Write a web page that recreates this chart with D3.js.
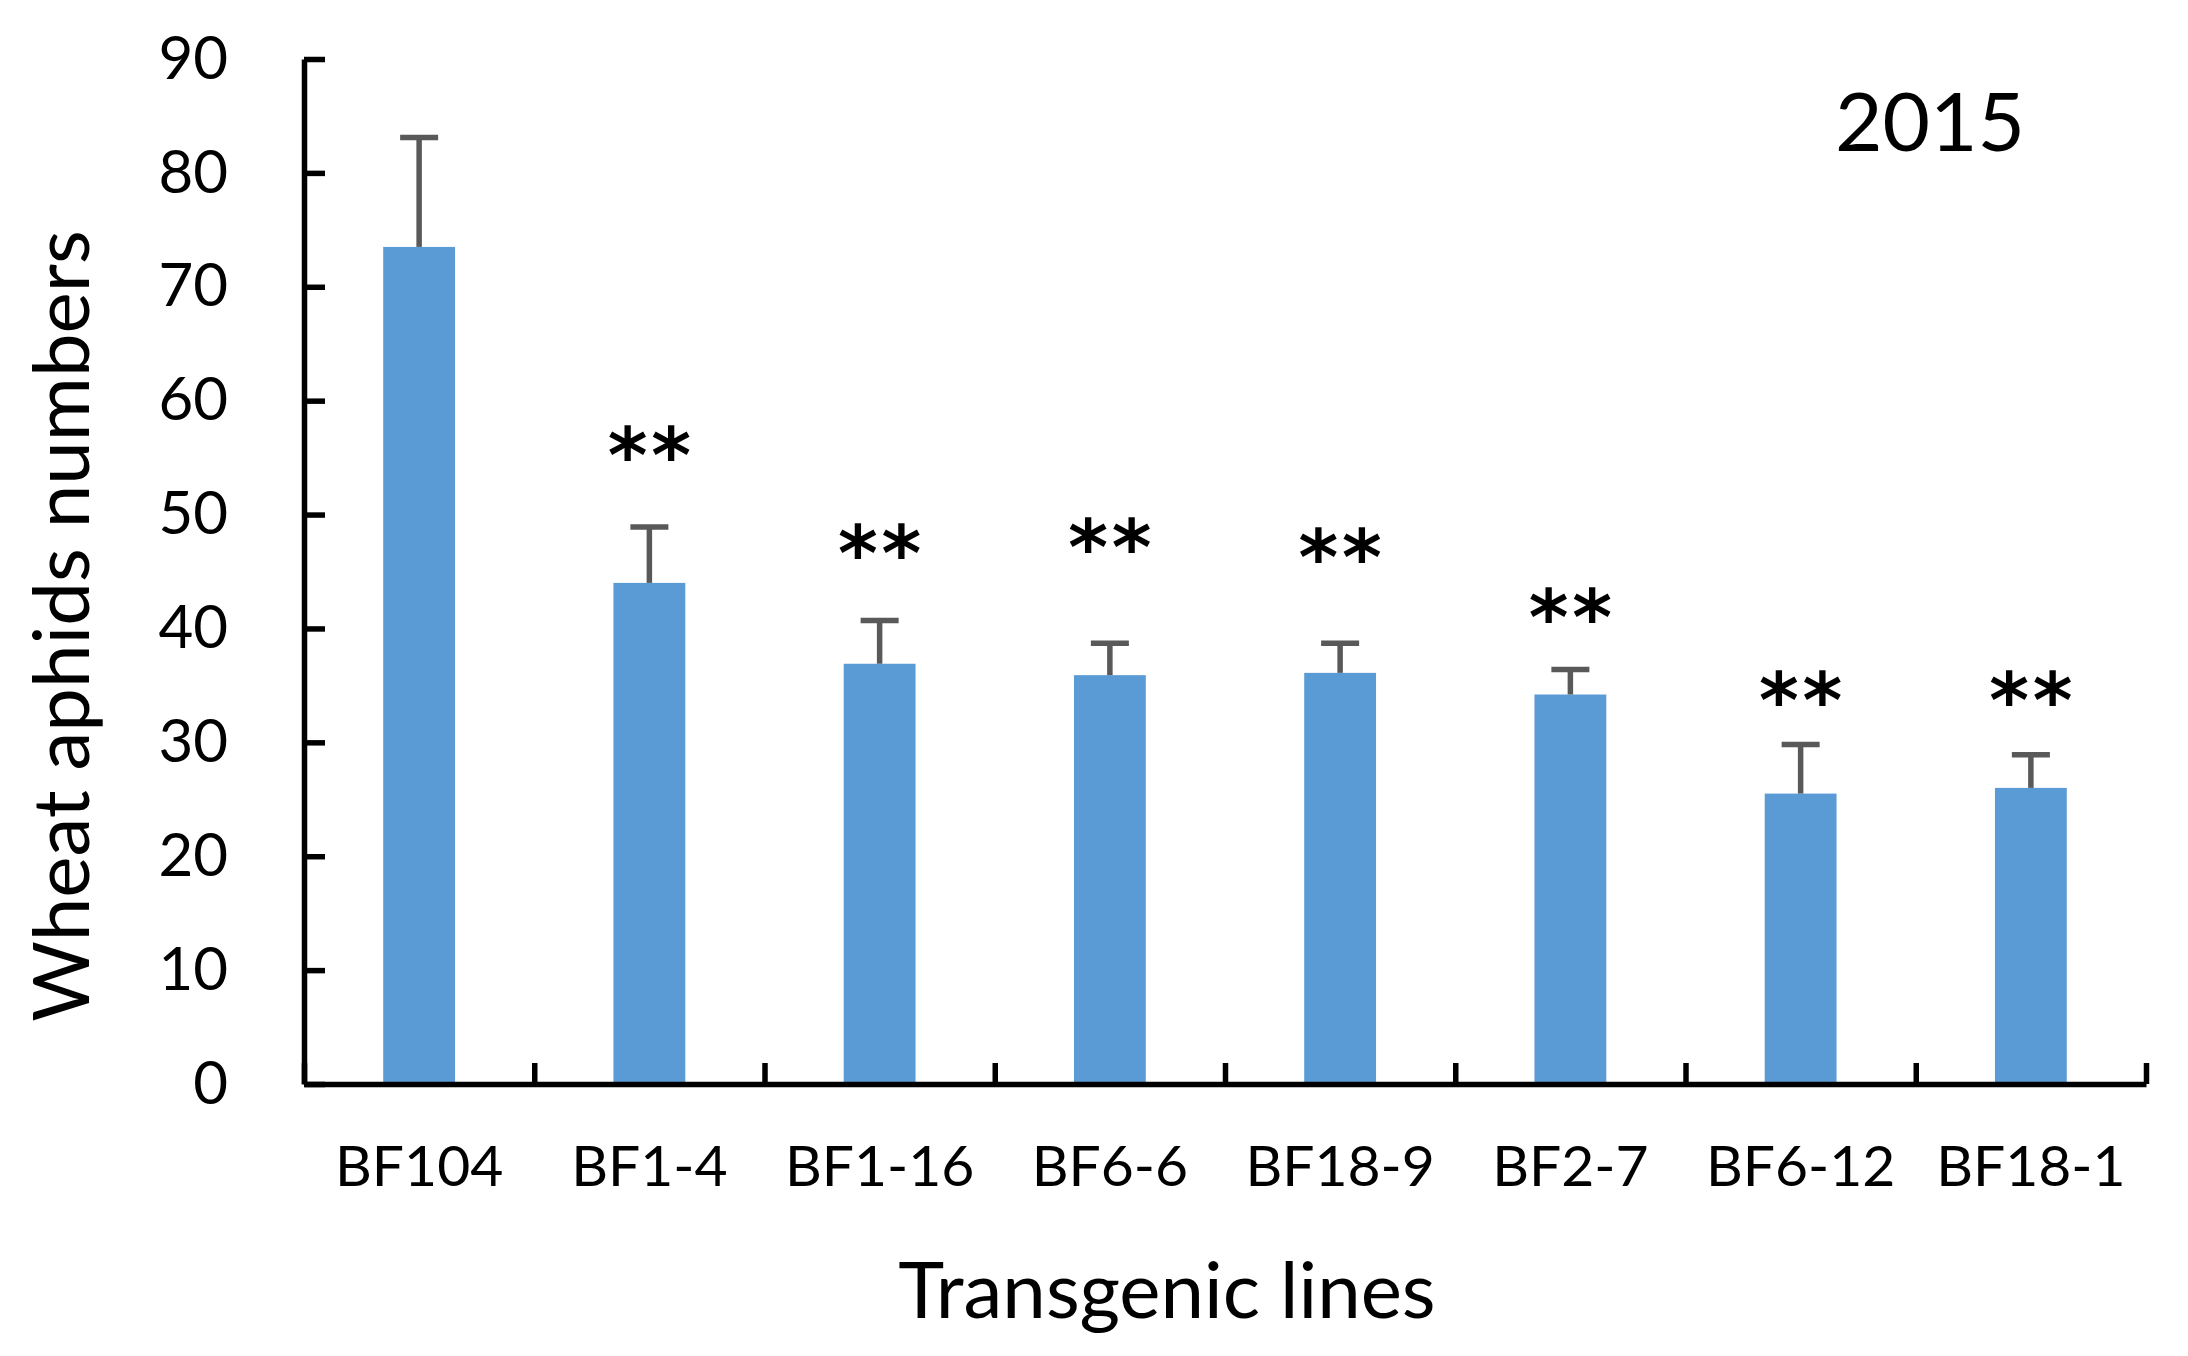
<!DOCTYPE html>
<html>
<head>
<meta charset="utf-8">
<script src="https://cdn.jsdelivr.net/npm/d3@7"></script>
<style>
  body { margin: 0; background: #fff; }
  .axis path, .axis line { stroke: #000; stroke-width: 5.5; }
  .axis text { font-family: Lato, sans-serif; fill: #000; }
</style>
</head>
<body>
<div id="chart"></div>
<script>
// values
var lines = ["BF104", "BF1-4", "BF1-16", "BF6-6", "BF18-9", "BF2-7", "BF6-12", "BF18-1"];
var means = [73.5, 44.0, 36.9, 35.9, 36.1, 34.2, 25.5, 26.0];
var errors = [9.6, 4.9, 3.8, 2.8, 2.6, 2.2, 4.3, 2.9];
var marks = ["", "**", "**", "**", "**", "**", "**", "**"];
var markAt = [null, 57.0, 48.4, 48.9, 48.0, 42.8, 35.5, 35.5];
var yTicks = [0, 10, 20, 30, 40, 50, 60, 70, 80, 90];

var W = 2188, H = 1356;
var plot = { left: 304, right: 2146, top: 59, bottom: 1084 };

var svg = d3.select("#chart").append("svg")
    .attr("width", W)
    .attr("height", H);

var x = d3.scaleBand().domain(lines).range([plot.left, plot.right]).paddingInner(0.688).paddingOuter(0.344);
var xEdge = d3.scaleLinear().domain([0, lines.length]).range([plot.left, plot.right]);
var y = d3.scaleLinear().domain([0, 90]).range([plot.bottom, plot.top]);

// bars
svg.append("g").selectAll("rect")
    .data(lines)
    .enter().append("rect")
    .attr("x", function(d) { return x(d); })
    .attr("y", function(d, i) { return y(means[i]); })
    .attr("width", x.bandwidth())
    .attr("height", function(d, i) { return y(0) - y(means[i]); })
    .attr("fill", "#5b9bd5");

// error bars (upper only)
var eb = svg.append("g").attr("stroke", "#595959").attr("stroke-width", 5.5);
lines.forEach(function(d, i) {
    var cx = x(d) + x.bandwidth() / 2;
    eb.append("line")
        .attr("x1", cx).attr("x2", cx)
        .attr("y1", y(means[i])).attr("y2", y(means[i] + errors[i]));
    eb.append("line")
        .attr("x1", cx - 19).attr("x2", cx + 19)
        .attr("y1", y(means[i] + errors[i])).attr("y2", y(means[i] + errors[i]));
});

// significance marks
svg.append("g").selectAll("text")
    .data(lines)
    .enter().append("text")
    .attr("x", function(d) { return x(d) + x.bandwidth() / 2 + 2; })
    .attr("y", function(d, i) { return markAt[i] == null ? 0 : y(markAt[i]); })
    .attr("dy", "0.62em")
    .attr("text-anchor", "middle")
    .style("font-family", "DejaVu Sans, sans-serif")
    .style("font-weight", "bold")
    .style("font-size", "76px")
    .style("letter-spacing", "4px")
    .text(function(d, i) { return marks[i]; });

// y axis
svg.append("g")
    .attr("class", "axis y")
    .attr("transform", "translate(" + plot.left + ",0)")
    .call(d3.axisLeft(y).tickValues(yTicks).tickSize(-21).tickSizeOuter(0).tickPadding(76))
    .selectAll("text").style("font-size", "60px");

// x axis: labels at centres, ticks at category edges
svg.append("g")
    .attr("class", "axis x")
    .attr("transform", "translate(0," + plot.bottom + ")")
    .call(d3.axisBottom(x).tickSize(0).tickPadding(62))
    .call(function(g) { g.select(".domain").remove(); })
    .selectAll("text").style("font-size", "57px");

svg.append("g")
    .attr("class", "axis x-edges")
    .attr("transform", "translate(0," + plot.bottom + ")")
    .call(d3.axisBottom(xEdge).tickValues(d3.range(lines.length + 1)).tickSize(-21).tickSizeOuter(0).tickFormat(""));

// titles
svg.append("text")
    .attr("x", 1167).attr("y", 1318)
    .attr("text-anchor", "middle")
    .style("font-family", "Lato, sans-serif")
    .style("font-size", "78px")
    .text("Transgenic lines");

svg.append("text")
    .attr("transform", "translate(89,626) rotate(-90)")
    .attr("text-anchor", "middle")
    .style("font-family", "Lato, sans-serif")
    .style("font-size", "78px")
    .text("Wheat aphids numbers");

svg.append("text")
    .attr("x", 1930).attr("y", 151)
    .attr("text-anchor", "middle")
    .style("font-family", "Lato, sans-serif")
    .style("font-size", "82px")
    .text("2015");
</script>
</body>
</html>
